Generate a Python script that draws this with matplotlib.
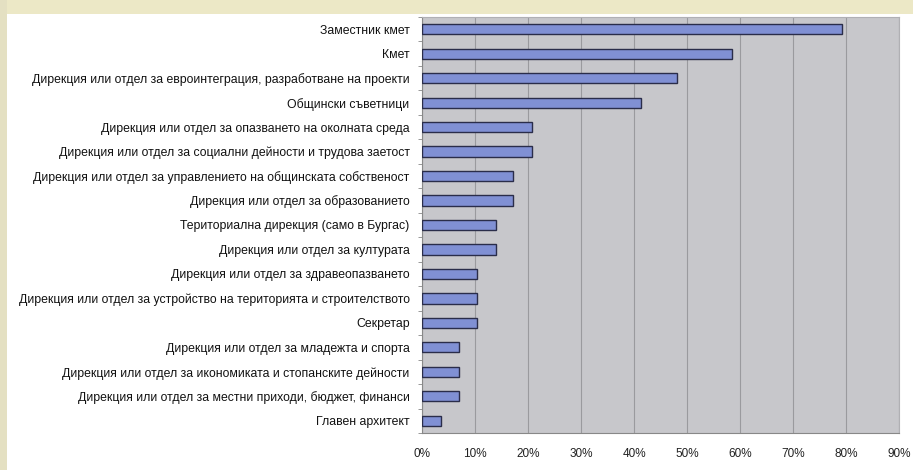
import matplotlib.pyplot as plt
from matplotlib.patches import Rectangle
import numpy as np

plt.rcParams['font.family'] = ['Liberation Sans', 'DejaVu Sans']

categories = [
    "Заместник кмет",
    "Кмет",
    "Дирекция или отдел за евроинтеграция, разработване на проекти",
    "Общински съветници",
    "Дирекция или отдел за опазването на околната среда",
    "Дирекция или отдел за социални дейности и трудова заетост",
    "Дирекция или отдел за управлението на общинската собственост",
    "Дирекция или отдел за образованието",
    "Териториална дирекция (само в Бургас)",
    "Дирекция или отдел за културата",
    "Дирекция или отдел за здравеопазването",
    "Дирекция или отдел за устройство на територията и строителството",
    "Секретар",
    "Дирекция или отдел за младежта и спорта",
    "Дирекция или отдел за икономиката и стопанските дейности",
    "Дирекция или отдел за местни приходи, бюджет, финанси",
    "Главен архитект",
]
values = [79.2, 58.5, 48.1, 41.4, 20.8, 20.8, 17.2, 17.2, 13.9, 13.9,
          10.4, 10.4, 10.4, 6.9, 6.9, 6.9, 3.5]
xticks = [0, 10, 20, 30, 40, 50, 60, 70, 80, 90]

fig = plt.figure(figsize=(9.13, 4.70), dpi=100)
fig.patch.set_facecolor('white')
# beige frame strips
fig.patches.append(Rectangle((0, 1 - 14 / 470), 1, 14 / 470, transform=fig.transFigure,
                             facecolor='#ece8c6', edgecolor='none', zorder=0))
fig.patches.append(Rectangle((0, 0), 7 / 913, 1, transform=fig.transFigure,
                             facecolor='#e4e0c2', edgecolor='none', zorder=0))

ax = fig.add_axes([422 / 913, 1 - 433 / 470, 477 / 913, 416 / 470])
ax.set_facecolor('#c7c7cb')

y = np.arange(len(categories))
ax.barh(y, values, height=0.42, color='#8090d4', edgecolor='#2a2d4a', linewidth=1.0, zorder=3)

ax.set_xlim(0, 90)
ax.set_ylim(len(categories) - 0.5, -0.5)
ax.set_xticks(xticks)
ax.set_xticklabels([f"{t}%" for t in xticks], fontsize=8.5, color='#222222')
ax.set_yticks(y)
ax.set_yticklabels(categories, fontsize=8.8, color='#111111')
ax.tick_params(axis='y', length=0, pad=9)
ax.tick_params(axis='x', length=0, pad=11)
ax.set_yticks(np.arange(-0.5, len(categories), 1), minor=True)
ax.tick_params(axis='y', which='minor', length=3, color='#888888')

ax.grid(axis='x', color='#9a9a9e', linewidth=0.8, zorder=1)
for s in ['top', 'right']:
    ax.spines[s].set_color('#b0b0b4')
ax.spines['left'].set_color('#888888')
ax.spines['bottom'].set_color('#888888')

fig.savefig('out.png', dpi=100)
